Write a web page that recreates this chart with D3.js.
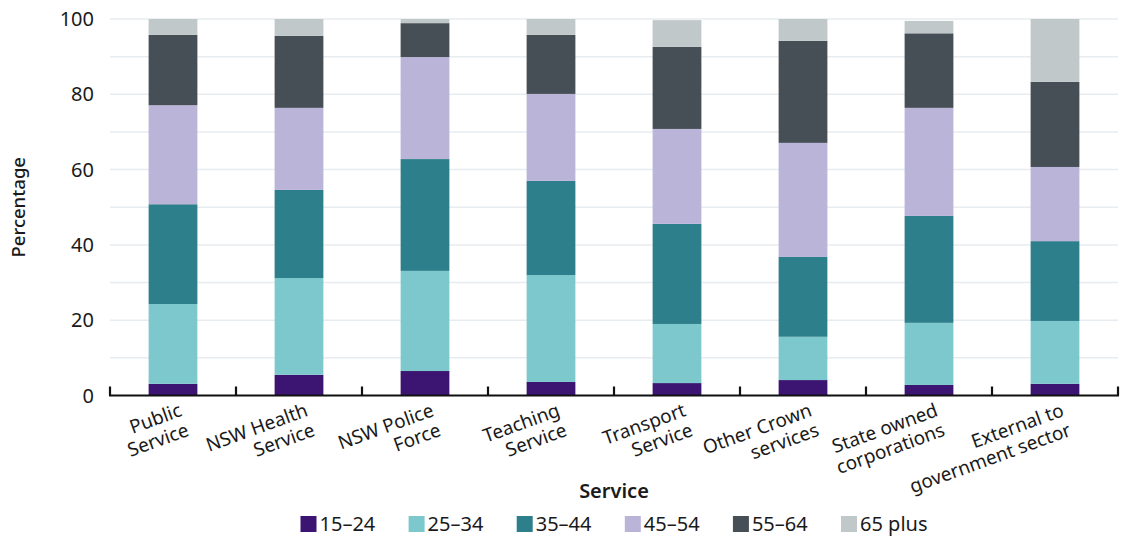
<!DOCTYPE html>
<html>
<head>
<meta charset="utf-8">
<script src="https://cdn.jsdelivr.net/npm/d3@7"></script>
<style>
  html, body { margin: 0; padding: 0; background: #fff; }
  svg { display: block; font-family: "Noto Sans", "Open Sans", sans-serif; }
</style>
</head>
<body>
<svg id="chart" width="1128" height="539"></svg>
<script>
const categories = [
  "Public Service", "NSW Health Service", "NSW Police Force", "Teaching Service",
  "Transport Service", "Other Crown services", "State owned corporations", "External to government sector"
];
const categoryLines = [
  ["Public", "Service"], ["NSW Health", "Service"], ["NSW Police", "Force"], ["Teaching", "Service"],
  ["Transport", "Service"], ["Other Crown", "services"], ["State owned", "corporations"], ["External to", "government sector"]
];
const ageGroups = ["15\u201324", "25\u201334", "35\u201344", "45\u201354", "55\u201364", "65 plus"];
const age15to24 = [3.1, 5.5, 6.5, 3.6, 3.3, 4.1, 2.8, 3.1];
const age25to34 = [21.2, 25.7, 26.6, 28.4, 15.7, 11.5, 16.5, 16.7];
const age35to44 = [26.5, 23.4, 29.7, 25.0, 26.6, 21.2, 28.4, 21.2];
const age45to54 = [26.3, 21.8, 27.1, 23.1, 25.2, 30.3, 28.7, 19.7];
const age55to64 = [18.7, 19.1, 9.0, 15.7, 21.8, 27.1, 19.8, 22.6];
const age65plus = [4.2, 4.5, 1.1, 4.2, 7.1, 5.8, 3.3, 16.7];
const yTickLabels = [0, 20, 40, 60, 80, 100];
const colors = ["#3c1572", "#7dc8cd", "#2e7f8c", "#bab4d9", "#464f56", "#c0c8ca"];

const seriesValues = [age15to24, age25to34, age35to44, age45to54, age55to64, age65plus];
const rows = categories.map((c, i) => {
  const r = { category: c };
  ageGroups.forEach((g, j) => r[g] = seriesValues[j][i]);
  return r;
});

const svg = d3.select("#chart");
const margin = { left: 110, right: 10, top: 19, bottom: 143.5 };
const W = 1128, H = 539;

const x = d3.scaleBand().domain(categories)
  .range([margin.left, W - margin.right])
  .paddingInner(0.613).paddingOuter(0.3065);
const y = d3.scaleLinear().domain([0, 100]).range([H - margin.bottom, margin.top]);

// gridlines
svg.append("g").selectAll("line").data(y.ticks(10)).join("line")
  .attr("x1", margin.left).attr("x2", W - margin.right)
  .attr("y1", d => y(d)).attr("y2", d => y(d))
  .attr("stroke", "#e7ecf0").attr("stroke-width", 1.5);

// y labels
svg.append("g").selectAll("text").data(yTickLabels).join("text")
  .attr("x", 94).attr("y", d => y(d)).attr("dy", "0.35em")
  .attr("text-anchor", "end").attr("font-size", 20).attr("fill", "#1a1a1a")
  .text(d => d);

// y title
svg.append("text")
  .attr("transform", `translate(25,${(y(0) + y(100)) / 2}) rotate(-90)`)
  .attr("text-anchor", "middle").attr("font-size", 18.5).attr("font-weight", 500)
  .attr("fill", "#1a1a1a").text("Percentage");

// stacked bars
const stack = d3.stack().keys(ageGroups)(rows);
const layers = svg.append("g").selectAll("g").data(stack).join("g")
  .attr("fill", (d, i) => colors[i]);
layers.selectAll("rect").data(d => d).join("rect")
  .attr("x", d => x(d.data.category))
  .attr("width", x.bandwidth())
  .attr("y", d => y(d[1]))
  .attr("height", d => y(d[0]) - y(d[1]));

// x axis line and ticks at band boundaries
const step = x.step();
const x0 = x.range()[0];
const axisG = svg.append("g");
axisG.append("line")
  .attr("x1", x0 - 1).attr("x2", x.range()[1] + 1)
  .attr("y1", y(0)).attr("y2", y(0))
  .attr("stroke", "#111").attr("stroke-width", 2.2);
axisG.selectAll("line.tick").data(d3.range(categories.length + 1)).join("line")
  .attr("class", "tick")
  .attr("x1", i => x0 + i * step).attr("x2", i => x0 + i * step)
  .attr("y1", y(0)).attr("y2", y(0) - 9)
  .attr("stroke", "#111").attr("stroke-width", 2.2);

// x labels
const labG = svg.append("g").selectAll("text").data(categories).join("text")
  .attr("transform", d => `translate(${x(d) + x.bandwidth() / 2 + 10},${y(0) + 20}) rotate(-20)`)
  .attr("text-anchor", "end").attr("font-size", 19).attr("fill", "#1a1a1a");
labG.each(function(d, i) {
  const t = d3.select(this);
  categoryLines[i].forEach((line, k) => {
    t.append("tspan").attr("x", 0).attr("dy", k === 0 ? 0 : 21).text(line);
  });
});

// x title
svg.append("text")
  .attr("x", (x.range()[0] + x.range()[1]) / 2).attr("y", 498)
  .attr("text-anchor", "middle").attr("font-size", 20).attr("font-weight", 600)
  .attr("fill", "#1a1a1a").text("Service");

// legend
const legend = svg.append("g");
const items = [];
ageGroups.forEach((g, i) => {
  const item = legend.append("g");
  item.append("rect").attr("x", 0).attr("y", -8).attr("width", 16).attr("height", 16).attr("fill", colors[i]);
  const txt = item.append("text").attr("x", 19).attr("y", 0).attr("dy", "0.35em")
    .attr("font-size", 20).attr("fill", "#1a1a1a").text(g);
  const w = 19 + txt.node().getComputedTextLength();
  items.push({ item, w });
});
const legendWidth = 627;
const gap = (legendWidth - d3.sum(items, d => d.w)) / (items.length - 1);
let start = (x.range()[0] + x.range()[1]) / 2 - legendWidth / 2;
items.forEach(d => {
  d.item.attr("transform", `translate(${start},524)`);
  start += d.w + gap;
});
</script>
</body>
</html>
